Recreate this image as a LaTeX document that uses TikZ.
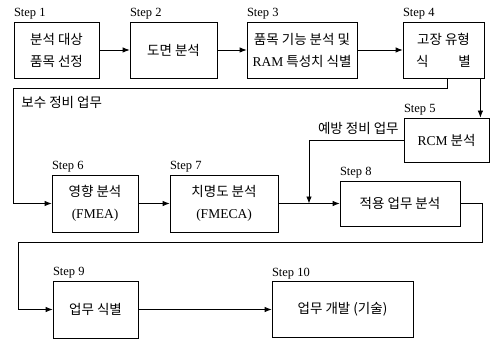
\documentclass[tikz,border=0pt]{standalone}
\usepackage{fontspec}
\setmainfont{Liberation Serif}
\newfontfamily\kr{Noto Sans CJK KR}
\newcommand\en[1]{{\rmfamily #1}}
\usetikzlibrary{arrows.meta}

\begin{document}
\begin{tikzpicture}[x=1pt,y=-1pt,line width=0.8pt,
 box/.style={draw,align=center,inner sep=0pt,font=\kr\fontsize{13.5}{22}\selectfont},
 lbl/.style={anchor=base west,inner sep=0pt,font=\rmfamily\fontsize{12.5}{14}\selectfont},
 note/.style={inner sep=0pt,font=\kr\fontsize{13.5}{15}\selectfont},
 arr/.style={-{Latex[length=7pt,width=5.5pt]}}]
 \useasboundingbox (0,0) rectangle (492,339);
 % steps
 \node[box,minimum width=85pt,minimum height=56pt] (s1) at (56.5,50) {분석 대상\\품목 선정};
 \node[box,minimum width=87pt,minimum height=56pt] (s2) at (173.5,50) {도면 분석};
 \node[box,minimum width=110pt,minimum height=56pt] (s3) at (302,50) {품목 기능 분석 및\\\en{RAM} 특성치 식별};
 \node[box,minimum width=81pt,minimum height=56pt] (s4) at (443.5,50) {고장 유형\\식\hspace{2.2em}별};
 \node[box,minimum width=85pt,minimum height=44pt] (s5) at (446.5,140) {\en{RCM} 분석};
 \node[box,minimum width=86pt,minimum height=57pt] (s6) at (95,203.5) {영향 분석\\\en{(FMEA)}};
 \node[box,minimum width=108pt,minimum height=57pt] (s7) at (224,203.5) {치명도 분석\\\en{(FMECA)}};
 \node[box,minimum width=120pt,minimum height=45pt] (s8) at (400,203.5) {적용 업무 분석};
 \node[box,minimum width=85pt,minimum height=57pt] (s9) at (95.5,309.5) {업무 식별};
 \node[box,minimum width=141pt,minimum height=56pt] (s10) at (342.5,309.5) {업무 개발 (기술)};
 \foreach \n in {1,...,10}
  \node[lbl] (l\n) at ([yshift=5pt]s\n.north west) {Step \n};
 % connectors
 \foreach \a/\b in {s1/s2,s2/s3,s3/s4,s6/s7,s7/s8,s9/s10}
  \draw[arr] (\a) -- (\b);
 \draw[arr] ([xshift=-4pt]s4.south east) -- ([xshift=-4pt]s4.south east |- s5.north);
 \coordinate (k1) at (13,88);
 \draw[arr] ([xshift=4pt]s4.south) |- (k1) |- (s6);
 \node[note,anchor=base west] (t1) at (21,107.5) {보수 정비 업무};
 \coordinate (k2) at (309,0);
 \draw[arr] (s5.west) -| (k2 |- s8.west);
 \node[note,anchor=base east] (t2) at (399,133.5) {예방 정비 업무};
 \coordinate (k3) at (482,242);
 \coordinate (k4) at (18,242);
 \draw[arr] (s8.east) -| (k3) -- (k4) |- (s9);
\end{tikzpicture}
\end{document}
